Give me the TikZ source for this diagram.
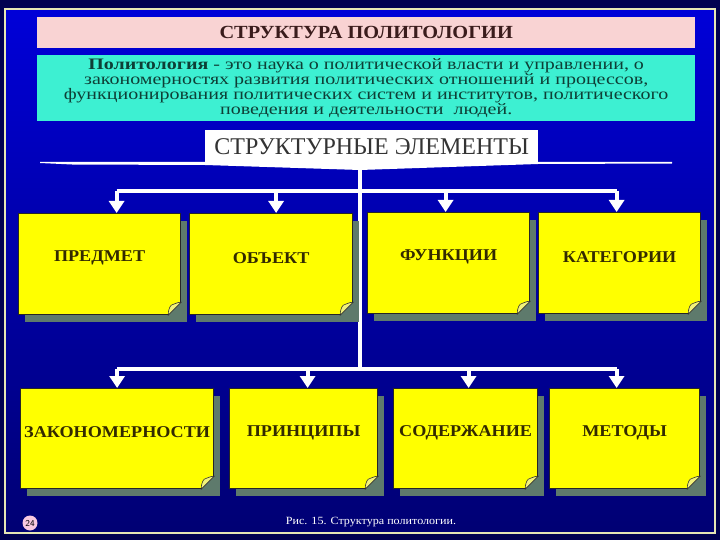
\documentclass[tikz,border=0pt]{standalone}
\usepackage{fontspec}
\setmainfont{Liberation Serif}
\newfontfamily\deffont[FakeStretch=1.25]{Liberation Serif}
\newfontfamily\cardfont[FakeStretch=1.1]{Liberation Serif}
\newfontfamily\capfont[FakeStretch=1.1]{Liberation Serif}
\usetikzlibrary{arrows.meta, positioning, calc, shadows}
\definecolor{SlideNavy}{HTML}{000050}
\definecolor{SlideBlue}{HTML}{0000D8}
\definecolor{FrameCream}{HTML}{E6E6B4}
\definecolor{TitlePink}{HTML}{F9D3D3}
\definecolor{TitleText}{HTML}{3A1C1C}
\definecolor{DefCyan}{HTML}{3DF0D2}
\definecolor{DefText}{HTML}{0E3F36}
\definecolor{CardYellow}{HTML}{FFFF00}
\definecolor{CardShadow}{HTML}{5E7A6C}
\definecolor{CardText}{HTML}{332A00}
\definecolor{FlapYellow}{HTML}{F2F27A}
\definecolor{PagePink}{HTML}{F8C8E0}

\tikzset{
  card/.style={draw=black!85, line width=1.2pt, fill=CardYellow, anchor=north west,
    inner sep=0pt,
    drop shadow={shadow xshift=6pt, shadow yshift=-7pt, fill=CardShadow, opacity=1}},
  cardtext/.style={font=\cardfont\bfseries\fontsize{16.5}{18}\selectfont, text=CardText, yshift=6pt},
  wire/.style={draw=white, line width=4pt},
  wirearrow/.style={wire, -{Triangle[width=15pt, length=12pt]}},
}

% curled corner at the bottom right of a card
\newcommand{\pagecurl}[1]{%
  \fill[CardShadow] ($(#1.south east)+(-13,0)$) -- (#1.south east)
    -- ($(#1.south east)+(0,-13)$) -- cycle;
  \filldraw[fill=FlapYellow, draw=black!80, line width=0.6pt]
    ($(#1.south east)+(-13,0)$) .. controls ($(#1.south east)+(-13,-4)$)
    and ($(#1.south east)+(-12,-8)$) .. ($(#1.south east)+(-10,-10)$)
    .. controls ($(#1.south east)+(-7,-11)$) and ($(#1.south east)+(-4,-13)$)
    .. ($(#1.south east)+(0,-13)$) -- cycle;
}

\begin{document}
\begin{tikzpicture}[x=1pt, y=-1pt, >=Stealth]
  \useasboundingbox (0,0) rectangle (720,540);
  % slide background and frame
  \fill[SlideNavy] (0,0) rectangle (720,540);
  \shade[top color=SlideBlue, middle color=SlideBlue!88!black, bottom color=SlideNavy!80!blue]
    (5,9) rectangle (715,533);
  \draw[FrameCream, line width=2pt] (5,9) rectangle (715,533);

  % heading and definition
  \node[fill=TitlePink, anchor=north west, minimum width=658pt, minimum height=31pt,
    inner sep=0pt, font=\capfont\bfseries\fontsize{18.5}{20}\selectfont, text=TitleText]
    (title) at (37,17) {СТРУКТУРА ПОЛИТОЛОГИИ};
  \node[fill=DefCyan, anchor=north west, minimum width=658pt, minimum height=66pt,
    inner sep=0pt, align=center, text=DefText,
    font=\deffont\fontsize{16}{14.5}\selectfont]
    (definition) at (37,55) {\textbf{Политология} - это наука о политической власти и управлении, о\\
    закономерностях развития политических отношений и процессов,\\
    функционирования политических систем и институтов, политического\\
    поведения и деятельности \ людей.};

  % white stripe under the box of elements
  \fill[white] (40,162) -- (672,162) -- (672,163.5) -- (538,164) -- (360,170)
    -- (205,165) -- (72,164.5) -- (40,163) -- cycle;
  \node[fill=white, anchor=north west, minimum width=333pt, minimum height=33pt,
    inner sep=0pt, font=\fontsize{24}{26}\selectfont, text=black!80]
    (elements) at (205,130) {СТРУКТУРНЫЕ ЭЛЕМЕНТЫ};

  % branching points
  \coordinate (hubA) at (360,191);
  \coordinate (hubB) at (360,369);

  % connectors
  \draw[wire] (elements.south -| hubA) -- (hubB);

  % upper row
  \node[card, minimum width=162pt, minimum height=101pt, label={[cardtext]center:ПРЕДМЕТ}]
    (subject) at (18,213) {};
  \node[card, minimum width=163pt, minimum height=101pt, label={[cardtext]center:ОБЪЕКТ}]
    (object) at (189,213) {};
  \node[card, minimum width=162pt, minimum height=101pt, label={[cardtext]center:ФУНКЦИИ}]
    (functions) at (367,212) {};
  \node[card, minimum width=162pt, minimum height=101pt, label={[cardtext]center:КАТЕГОРИИ}]
    (categories) at (538,212) {};

  % lower row
  \node[card, minimum width=193pt, minimum height=100pt, label={[cardtext]center:ЗАКОНОМЕРНОСТИ}]
    (laws) at (20,388) {};
  \node[card, minimum width=148pt, minimum height=100pt, label={[cardtext]center:ПРИНЦИПЫ}]
    (principles) at (229,388) {};
  \node[card, minimum width=144pt, minimum height=100pt, label={[cardtext]center:СОДЕРЖАНИЕ}]
    (content) at (393,388) {};
  \node[card, minimum width=150pt, minimum height=100pt, label={[cardtext]center:МЕТОДЫ}]
    (methods) at (549,388) {};

  \pagecurl{subject}
  \pagecurl{object}
  \pagecurl{functions}
  \pagecurl{categories}
  \pagecurl{laws}
  \pagecurl{principles}
  \pagecurl{content}
  \pagecurl{methods}

  % horizontal bars and arrows to the cards
  \draw[wire] ([xshift=17pt]subject.north |- hubA) -- ([xshift=-3pt]categories.north |- hubA);
  \draw[wirearrow] ([xshift=17pt]subject.north |- hubA) -- ([xshift=17pt]subject.north);
  \draw[wirearrow] ([xshift=5pt]object.north |- hubA) -- ([xshift=5pt]object.north);
  \draw[wirearrow] ([xshift=-3pt]functions.north |- hubA) -- ([xshift=-3pt]functions.north);
  \draw[wirearrow] ([xshift=-3pt]categories.north |- hubA) -- ([xshift=-3pt]categories.north);

  \draw[wire] (laws.north |- hubB) -- ([xshift=-8pt]methods.north |- hubB);
  \draw[wirearrow] (laws.north |- hubB) -- (laws.north);
  \draw[wirearrow] ([xshift=4pt]principles.north |- hubB) -- ([xshift=4pt]principles.north);
  \draw[wirearrow] ([xshift=3pt]content.north |- hubB) -- ([xshift=3pt]content.north);
  \draw[wirearrow] ([xshift=-8pt]methods.north |- hubB) -- ([xshift=-8pt]methods.north);

  % caption and slide number
  \node[text=white, font=\capfont\fontsize{11}{13}\selectfont] (caption) at (371,522)
    {Рис. 15. Структура политологии.};
  \node[circle, fill=PagePink, inner sep=1pt, minimum size=15pt,
    font=\sffamily\fontsize{9}{10}\selectfont] (pagenum) at (30,523) {24};
\end{tikzpicture}
\end{document}
